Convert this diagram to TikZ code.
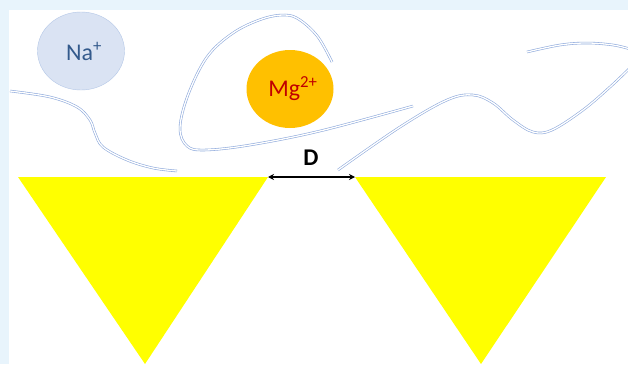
\documentclass[tikz,border=0pt]{standalone}
\usepackage{fontspec}
\setmainfont{Carlito}
\usetikzlibrary{arrows.meta,positioning,shapes.geometric}
\definecolor{cBg}{HTML}{E8F4FC}
\definecolor{cNa}{HTML}{DAE3F3}
\definecolor{cNaLine}{HTML}{B4C7E7}
\definecolor{cNaText}{HTML}{335A8C}
\definecolor{cMg}{HTML}{FFC000}
\definecolor{cMgText}{HTML}{C00000}
\definecolor{cChain}{HTML}{8FAADC}
\definecolor{cTip}{HTML}{FFFF00}
\tikzset{
  ion/.style={ellipse,inner sep=0pt,minimum width=87pt,minimum height=78pt,
              font=\fontsize{24}{28}\selectfont},
  chain/.style={draw=cChain,line width=.6pt,double=white,double distance=1.3pt},
  tip/.style={fill=cTip,draw=none},
  gaparrow/.style={{Stealth[length=6pt,width=6pt]}-{Stealth[length=6pt,width=6pt]},
                   line width=1.8pt,black},
}

\begin{document}
\begin{tikzpicture}[x=1pt,y=-1pt]
  \useasboundingbox (0,0) rectangle (628,364);
  \fill[cBg] (0,0) rectangle (628,364);
  \fill[white] (9,10) rectangle (628,364);
  % ions
  \node[ion,fill=cNa,draw=cNaLine,text=cNaText] (na) at (81,51) {\hspace*{6pt}Na\textsuperscript{+}};
  \node[ion,fill=cMg,text=cMgText] (mg) at (290,89) {\hspace*{6pt}Mg\textsuperscript{2+}};
  % polymer chains
  \draw[chain] plot[smooth,tension=.6] coordinates {(10,91) (50,97) (77,107)
    (90,120) (95,133) (103,147) (127,160) (153,168) (177,171)};
  \draw[chain] plot[smooth,tension=.6] coordinates {(332,62) (318,37) (300,20)
    (285,15) (262,19) (233,33) (207,57) (188,95) (180,128) (187,146) (205,150)
    (250,145) (320,131) (413,106)};
  \draw[chain] plot[smooth,tension=.6] coordinates {(338,170) (400,127) (447,100)
    (473,95) (493,103) (513,120) (533,132) (552,130) (583,110) (610,87) (630,68)};
  \draw[chain] plot[smooth,tension=.6] coordinates {(527,52) (560,45) (587,43)
    (613,45) (630,49)};
  % tips
  \coordinate (lA) at (18,177);
  \coordinate (lB) at (268,177);
  \coordinate (lC) at (145,364);
  \coordinate (rA) at (355,177);
  \coordinate (rB) at (606,177);
  \coordinate (rC) at (481,364);
  \fill[tip] (lA) -- (lB) -- (lC) -- cycle;
  \fill[tip] (rA) -- (rB) -- (rC) -- cycle;
  \draw[gaparrow] (lB) -- (rA);
  \node[font=\fontsize{24}{28}\selectfont\bfseries] (d) at (311,158) {D};
\end{tikzpicture}
\end{document}
